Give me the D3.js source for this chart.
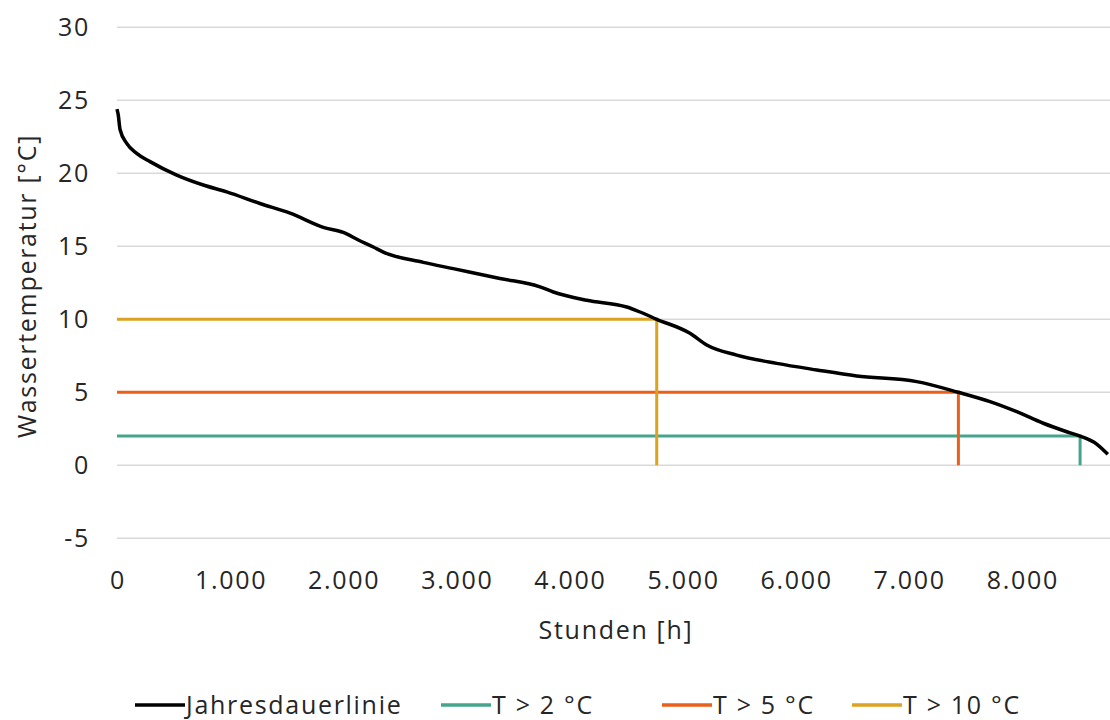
<!DOCTYPE html>
<html><head><meta charset="utf-8">
<script src="https://cdn.jsdelivr.net/npm/d3@7"></script>
<style>body{margin:0;background:#fff}svg{display:block}text{font-family:"Open Sans",sans-serif;fill:#262626;letter-spacing:1.7px}</style>
</head><body><svg id="c" width="1110" height="720"></svg>
<script>
const hours = [0,11,27,86,174,292,528,763,970,1264,1530,1824,2001,2134,2266,2355,2708,2973,3386,3740,3858,4153,4507,4624,4772,5066,5214,5479,5833,6187,6540,7071,7439,7719,7955,8190,8397,8515,8662,8760];
const temps = [24.4,24.0,23.0,22.05,21.37,20.8,19.88,19.2,18.73,17.93,17.27,16.3,15.95,15.43,14.95,14.6,13.9,13.47,12.8,12.22,11.87,11.3,10.84,10.5,10.0,9.04,8.24,7.55,6.98,6.53,6.12,5.73,5.0,4.36,3.67,2.88,2.3,2.0,1.45,0.75];
const thresholdNames = ["T > 2 °C","T > 5 °C","T > 10 °C"];
const thresholdTemps = [2,5,10];
const thresholdHours = [8515,7439,4772];
const thresholdColors = ["#45a58c","#ea5f1a","#dba321"];
const yTicks = [-5,0,5,10,15,20,25,30];
const xTicks = [0,1000,2000,3000,4000,5000,6000,7000,8000];

const svg = d3.select("#c");
const x = d3.scaleLinear().domain([0,8760]).range([117,1107.8]);
const y = d3.scaleLinear().domain([-5,30]).range([538.3,27.3]);
const fmt = d => d3.format(",")(d).replace(/,/g,".");

svg.append("g").selectAll("line").data(yTicks).join("line")
  .attr("x1",117).attr("x2",1110).attr("y1",d=>y(d)).attr("y2",d=>y(d))
  .attr("stroke","#d9d9d9").attr("stroke-width",1.5);

svg.append("g").selectAll("text").data(yTicks).join("text")
  .attr("x",90).attr("y",d=>y(d)).attr("dy","0.35em").attr("text-anchor","end")
  .attr("font-size",25).text(d=>d);

svg.append("g").selectAll("text").data(xTicks).join("text")
  .attr("x",d=>x(d)+1).attr("y",589).attr("text-anchor","middle")
  .attr("font-size",25).text(d=>fmt(d));

svg.append("text").attr("x",616).attr("y",639).attr("text-anchor","middle").attr("font-size",25).text("Stunden [h]");
svg.append("text").attr("transform","translate(36,286) rotate(-90)").attr("text-anchor","middle").attr("font-size",25).text("Wassertemperatur [°C]");

thresholdTemps.forEach((t,i)=>{
  const pts = [[0,t],[thresholdHours[i],t],[thresholdHours[i],0]];
  svg.append("path").attr("d",d3.line().x(d=>x(d[0])).y(d=>y(d[1])).curve(d3.curveLinear)(pts))
    .attr("fill","none").attr("stroke",thresholdColors[i]).attr("stroke-width",3);
});

const data = hours.map((h,i)=>[h,temps[i]]);
svg.append("path").attr("d",d3.line().x(d=>x(d[0])).y(d=>y(d[1])).curve(d3.curveMonotoneX)(data))
  .attr("fill","none").attr("stroke","#000").attr("stroke-width",3.5).attr("stroke-linejoin","round");

const legend = [{n:"Jahresdauerlinie",c:"#000",x:135},{n:thresholdNames[0],c:thresholdColors[0],x:441},{n:thresholdNames[1],c:thresholdColors[1],x:662},{n:thresholdNames[2],c:thresholdColors[2],x:852}];
const lg = svg.append("g").selectAll("g").data(legend).join("g");
lg.append("line").attr("x1",d=>d.x).attr("x2",d=>d.x+50).attr("y1",705).attr("y2",705).attr("stroke",d=>d.c).attr("stroke-width",3.5);
lg.append("text").attr("x",d=>d.x+51).attr("y",705).attr("dy","0.35em").attr("font-size",25).text(d=>d.n);
</script></body></html>
